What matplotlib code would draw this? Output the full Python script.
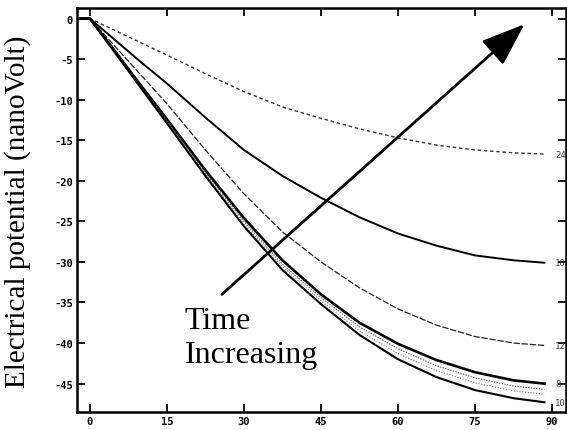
import matplotlib
matplotlib.use("Agg")
import matplotlib.pyplot as plt

plt.rcParams['axes.unicode_minus'] = False

# ---- data ----
x = [-2.5, 0, 5, 10, 15, 22.5, 30, 37.5, 45, 52.5, 60, 67.5, 75, 82.5, 88.5]

c1 = [0, 0, -1.5, -3.0, -4.5, -6.8, -9.0, -10.9, -12.3, -13.6, -14.7, -15.6, -16.2, -16.55, -16.7]
c2 = [0, 0, -2.7, -5.4, -8.0, -12.2, -16.2, -19.4, -22.1, -24.5, -26.5, -28.0, -29.2, -29.8, -30.1]
c3 = [0, 0, -3.5, -7.0, -10.5, -16.2, -21.6, -26.3, -30.0, -33.2, -35.8, -37.8, -39.2, -40.0, -40.3]
c4 = [0, 0, -4.1, -8.3, -12.4, -18.7, -24.6, -29.8, -34.0, -37.5, -40.1, -42.1, -43.6, -44.6, -45.0]
c5 = [0, 0, -4.15, -8.4, -12.6, -19.0, -25.0, -30.3, -34.4, -38.0, -40.7, -42.8, -44.3, -45.3, -45.7]
c6 = [0, 0, -4.2, -8.5, -12.75, -19.2, -25.3, -30.6, -34.8, -38.5, -41.3, -43.4, -44.9, -45.9, -46.3]
c7 = [0, 0, -4.3, -8.6, -12.9, -19.4, -25.6, -31.0, -35.2, -39.0, -42.0, -44.2, -45.8, -46.8, -47.3]

end_labels = ["24", "10", "12", "8", "10"]
end_label_vals = [-16.7, -30.1, -40.3, -45.0, -47.3]

xticks = [0, 15, 30, 45, 60, 75, 90]
yticks = [0, -5, -10, -15, -20, -25, -30, -35, -40, -45]

arrow_tail = (25.7, -34.0)
arrow_head = (84.6, -0.7)

# ---- figure ----
fig = plt.figure(figsize=(5.67, 4.31), dpi=100)
ax = fig.add_axes([77/567, 1 - 413/431, (566 - 77)/567, (413 - 9)/431])

ax.plot(x, c1, color='#333333', lw=1.0, ls=(0, (2.5, 2)))
ax.plot(x, c2, color='black', lw=1.4, ls='-')
ax.plot(x, c3, color='#222222', lw=0.9, ls=(0, (5, 1.5)))
ax.plot(x, c4, color='black', lw=1.9, ls='-')
ax.plot(x, c5, color='#555555', lw=0.8, ls=(0, (1.2, 1.2)))
ax.plot(x, c6, color='#777777', lw=0.8, ls=(0, (1, 1.5)))
ax.plot(x, c7, color='black', lw=1.5, ls='-')

for lab, v in zip(end_labels, end_label_vals):
    ax.text(90.6, v, lab, fontsize=6.5, family='DejaVu Sans Mono',
            color='#444444', va='center', ha='left', clip_on=False)

ax.set_xlim(-2.5, 92.7)
ax.set_ylim(-48.5, 1.3)

ax.set_xticks(xticks)
ax.set_xticklabels([str(t) for t in xticks])
ax.set_yticks(yticks)
ax.set_yticklabels([str(t) for t in yticks])

for s in ax.spines.values():
    s.set_linewidth(1.8)
    s.set_color('black')

ax.tick_params(axis='both', direction='in', length=6, width=1.3,
               top=True, right=True, labelsize=7.5, pad=3)
for lbl in ax.get_xticklabels() + ax.get_yticklabels():
    lbl.set_family('DejaVu Sans Mono')
    lbl.set_fontweight('bold')

fig.text(18/567, 1 - 212/431, "Electrical potential (nanoVolt)",
         family='Liberation Serif', fontsize=21, rotation=90,
         ha='center', va='center')

ax.annotate("", xy=arrow_head, xytext=arrow_tail,
            arrowprops=dict(arrowstyle='-|>,head_length=1.35,head_width=0.5',
                            mutation_scale=20, lw=2, color='black',
                            shrinkA=0, shrinkB=0))

ax.text(18.5, -39.3, "Time\nIncreasing", family='Liberation Serif',
        fontsize=23, va='center', ha='left', linespacing=1.2)

fig.savefig("out.png", dpi=100)
